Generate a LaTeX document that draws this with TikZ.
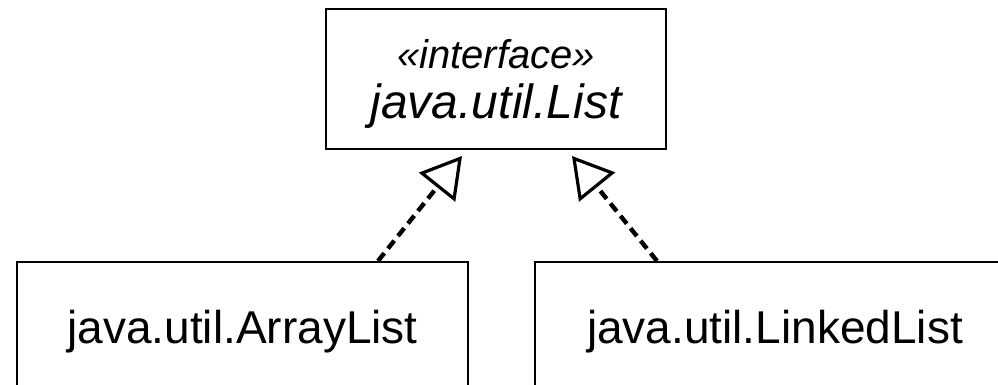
\documentclass[tikz,border=0pt]{standalone}
\usepackage{fontspec}
\setmainfont{Liberation Sans}
\usetikzlibrary{arrows.meta}

\tikzset{
  classbox/.style={draw, rectangle, line width=1pt, inner sep=0pt, text depth=0pt,
    font=\fontsize{23}{25}\selectfont},
  realizes/.style={line width=2.2pt, dash pattern=on 5pt off 3pt,
    -{Triangle[open, length=20pt, width=23pt, line width=1.6pt]}},
}

\begin{document}
\begin{tikzpicture}[x=0.5pt, y=-0.5pt]
\useasboundingbox (0,0) rectangle (998,385);

\node[classbox, minimum width=170pt, minimum height=70pt, align=center,
  font=\fontsize{24}{25}\selectfont] (list) at (496,79)
  {{\fontsize{20}{20}\selectfont\itshape «interface»}\\ \itshape java.util.List};
\node[classbox, minimum width=225.5pt, minimum height=65pt] (arraylist) at (242.5,327) {java.util.ArrayList};
\node[classbox, minimum width=240pt, minimum height=65pt] (linkedlist) at (775,327) {java.util.LinkedList};

% realizations
\draw[realizes] ([xshift=67.75pt]arraylist.north) -- ([xshift=-17pt, yshift=-3pt]list.south);
\draw[realizes] ([xshift=-59pt]linkedlist.north) -- ([xshift=38pt, yshift=-3pt]list.south);
\end{tikzpicture}
\end{document}
